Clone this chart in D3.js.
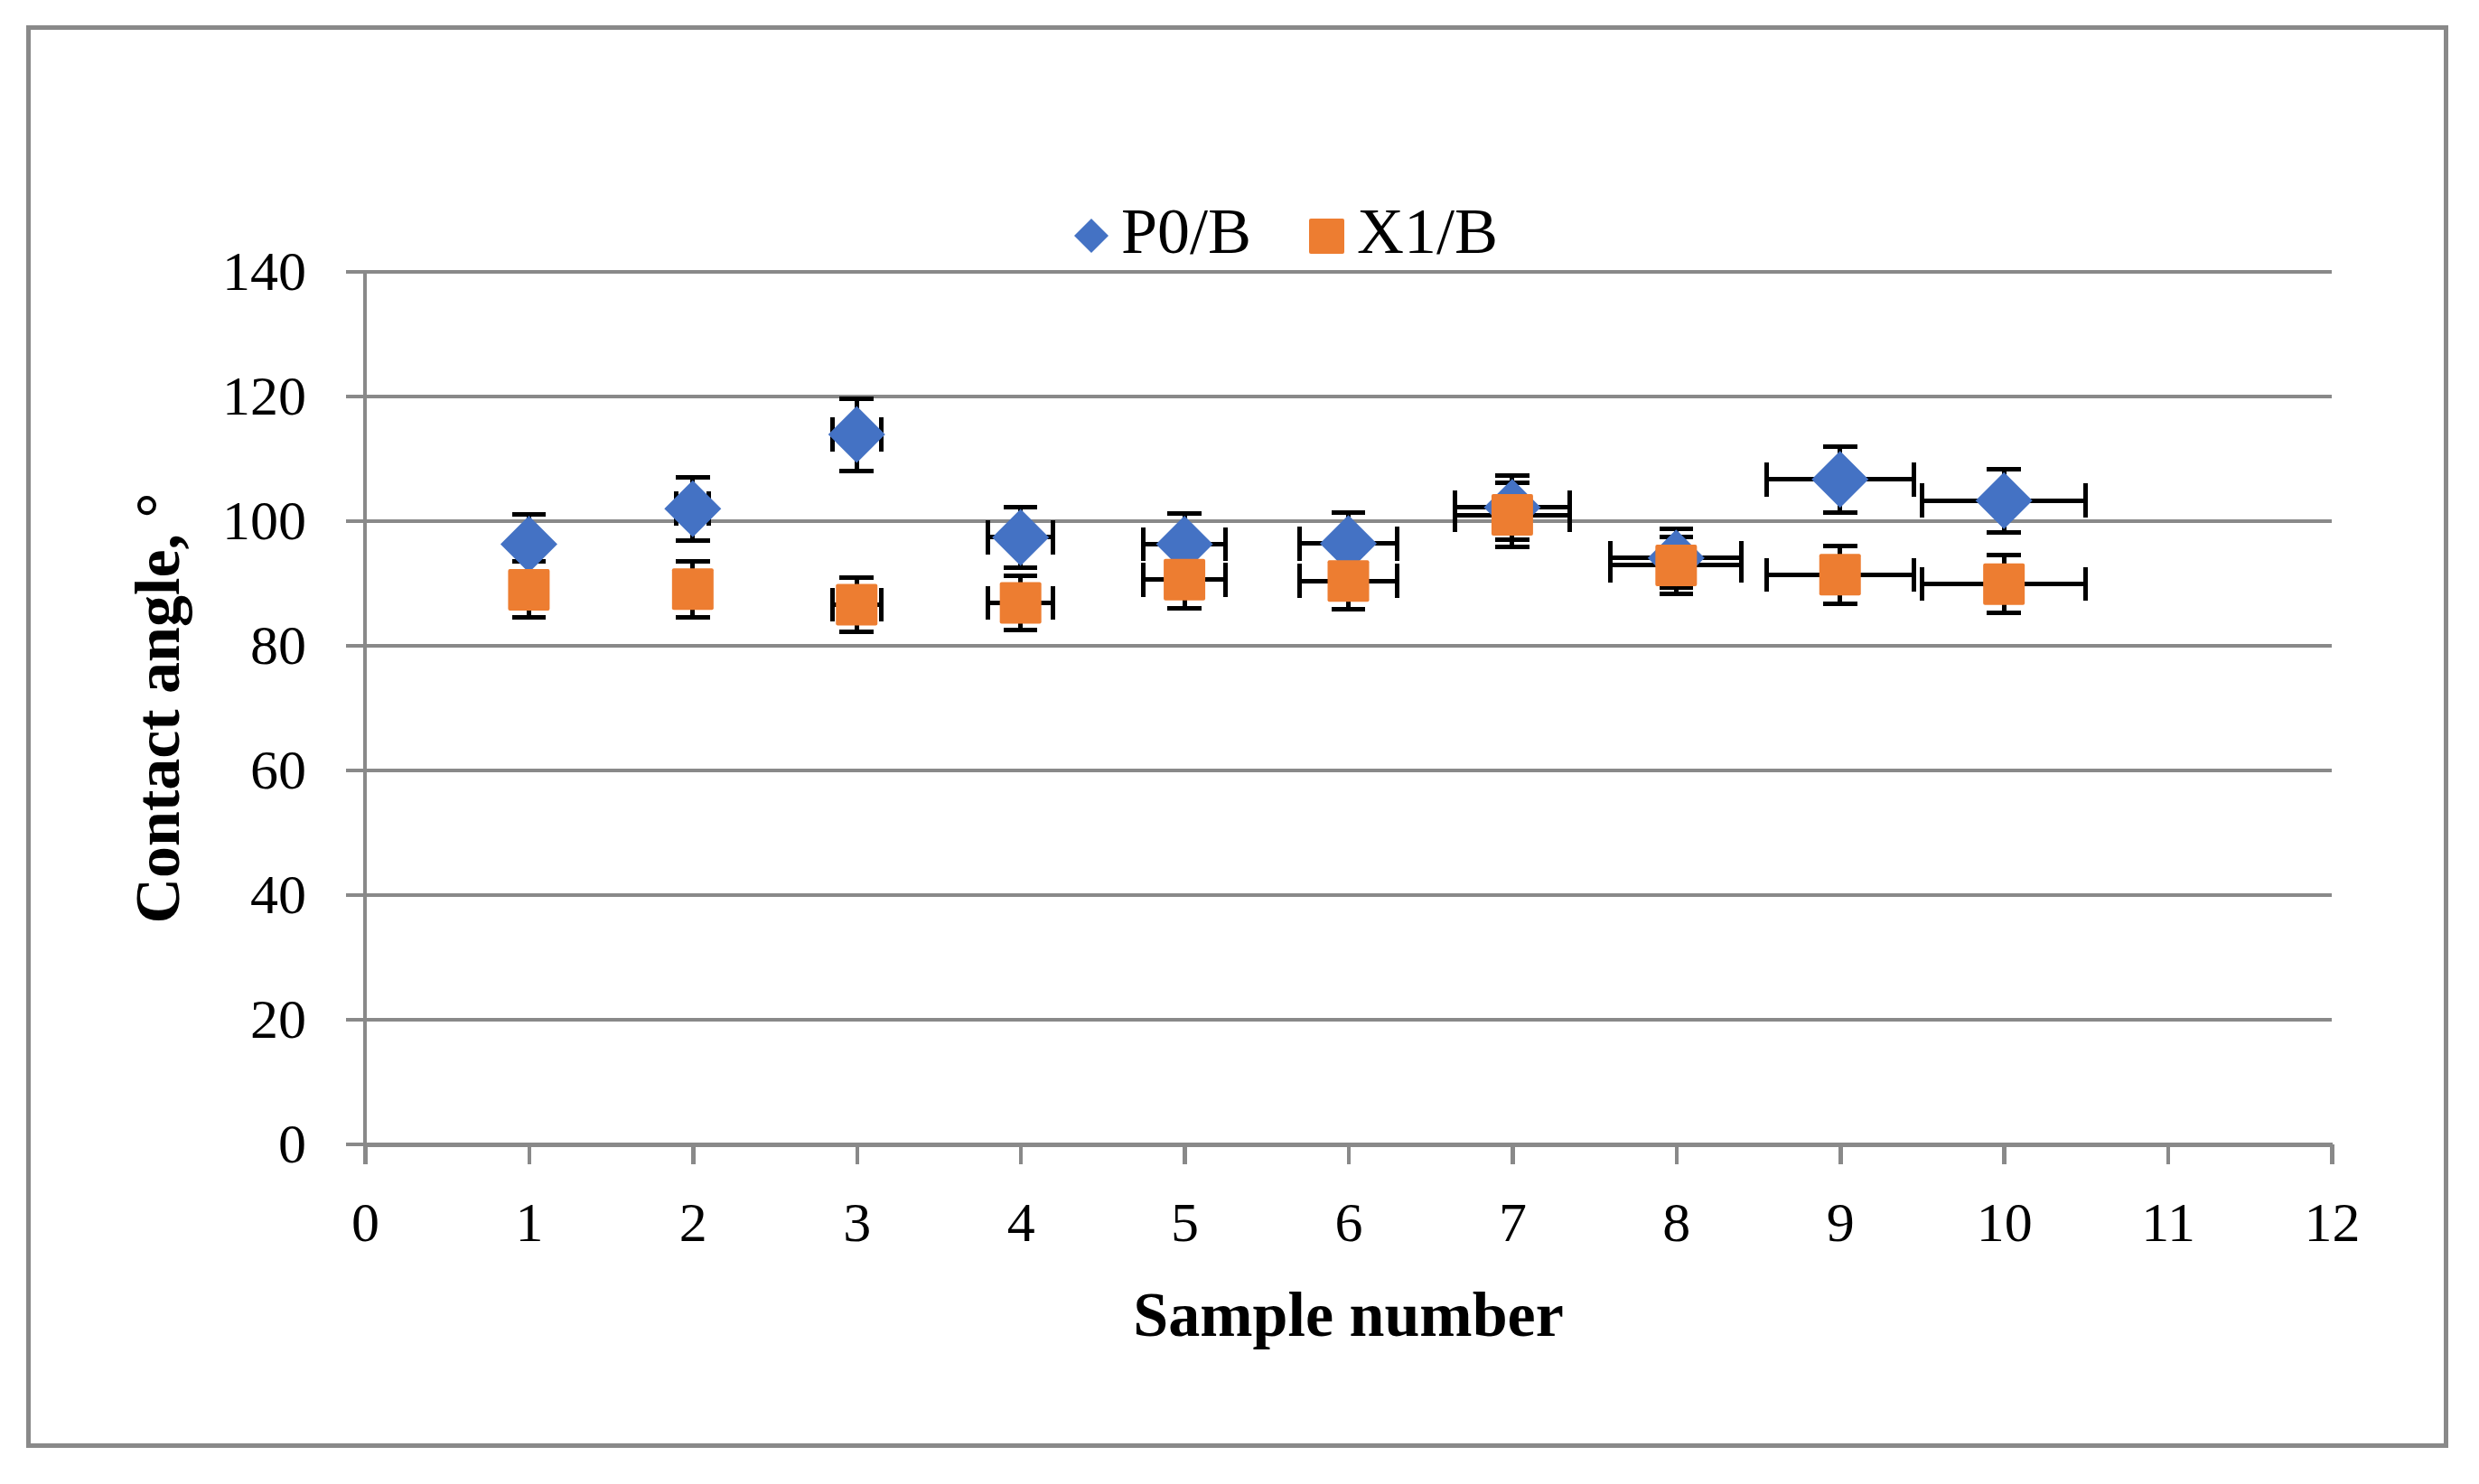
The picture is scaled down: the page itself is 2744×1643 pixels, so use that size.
<!DOCTYPE html>
<html>
<head>
<meta charset="utf-8">
<script src="https://cdn.jsdelivr.net/npm/d3@7"></script>
<style>
  html, body { margin: 0; padding: 0; background: #fff; }
  svg { display: block; }
</style>
</head>
<body>
<div id="chart"></div>
<script>
// ---- data ----
const samples = [1, 2, 3, 4, 5, 6, 7, 8, 9, 10];
const p0Values = [96.3, 102.0, 113.9, 97.4, 96.3, 96.4, 102.2, 94.1, 106.7, 103.3];
const p0Errors = [4.8, 5.1, 5.8, 4.9, 4.9, 5.0, 5.1, 4.7, 5.3, 5.1];
const x1Values = [89.0, 89.1, 86.6, 86.9, 90.6, 90.4, 101.0, 92.9, 91.4, 89.9];
const x1Errors = [4.5, 4.5, 4.4, 4.4, 4.6, 4.5, 5.1, 4.5, 4.6, 4.6];
const xErrors = [0.05, 0.1, 0.15, 0.2, 0.25, 0.3, 0.35, 0.4, 0.45, 0.5];
const xTicks = [0, 1, 2, 3, 4, 5, 6, 7, 8, 9, 10, 11, 12];
const yTicks = [0, 20, 40, 60, 80, 100, 120, 140];
const seriesNames = ["P0/B", "X1/B"];

// ---- layout ----
const W = 2744, H = 1643;
const gridColor = "#898989";
const blue = "#4472C4", orange = "#ED7D31";
const serif = "'Palatino Linotype', 'Book Antiqua', Palatino, 'Liberation Serif', serif";

const svg = d3.select("#chart").append("svg").attr("width", W).attr("height", H);

// outer frame
svg.append("rect").attr("x", 31.5).attr("y", 30.5).attr("width", 2676).attr("height", 1570)
  .attr("fill", "none").attr("stroke", gridColor).attr("stroke-width", 5)
  .attr("shape-rendering", "crispEdges");

const x = d3.scaleLinear().domain([0, 12]).range([404, 2581]);
const y = d3.scaleLinear().domain([0, 140]).range([1267, 301]);

// gridlines
svg.append("g").attr("shape-rendering", "crispEdges").selectAll("line").data(yTicks).join("line")
  .attr("x1", x(0) - 21).attr("x2", x(12))
  .attr("y1", d => y(d)).attr("y2", d => y(d))
  .attr("stroke", gridColor).attr("stroke-width", 4.5);

// y axis vertical line
svg.append("line").attr("x1", x(0)).attr("x2", x(0)).attr("y1", y(140)).attr("y2", y(0) + 22)
  .attr("stroke", gridColor).attr("stroke-width", 4.5).attr("shape-rendering", "crispEdges");

// x axis
const xAxis = svg.append("g").attr("transform", `translate(0,${y(0)})`)
  .call(d3.axisBottom(x).tickValues(xTicks).tickFormat(d3.format("d")).tickSizeInner(22).tickSizeOuter(0).tickPadding(41));
xAxis.select(".domain").attr("stroke", gridColor).attr("stroke-width", 4.5).attr("shape-rendering", "crispEdges");
xAxis.selectAll(".tick line").attr("stroke", gridColor).attr("stroke-width", 4.5).attr("shape-rendering", "crispEdges");
xAxis.selectAll(".tick text").attr("font-family", serif).attr("font-size", 62).attr("fill", "#000");

// y axis labels
const yAxis = svg.append("g").attr("transform", `translate(${x(0)},0)`)
  .call(d3.axisLeft(y).tickValues(yTicks).tickFormat(d3.format("d")).tickSizeInner(21).tickSizeOuter(0).tickPadding(44));
yAxis.select(".domain").remove();
yAxis.selectAll(".tick line").remove();
yAxis.selectAll(".tick text").attr("font-family", serif).attr("font-size", 62).attr("fill", "#000");

// axis titles
svg.append("text").attr("x", (x(0) + x(12)) / 2).attr("y", 1479)
  .attr("text-anchor", "middle").attr("font-family", serif).attr("font-weight", "bold")
  .attr("font-size", 70).attr("fill", "#000").text("Sample number");
svg.append("text").attr("transform", `translate(198,${(y(0) + y(140)) / 2}) rotate(-90)`)
  .attr("text-anchor", "middle").attr("font-family", serif).attr("font-weight", "bold")
  .attr("font-size", 70).attr("fill", "#000").text("Contact angle, °");

// ---- error bars ----
const rows = samples.map((s, i) => ({
  s, p0: p0Values[i], p0e: p0Errors[i], x1: x1Values[i], x1e: x1Errors[i], xe: xErrors[i]
}));
const cap = 18.8;
const eb = svg.append("g").attr("stroke", "#000").attr("stroke-width", 5).attr("fill", "none")
  .attr("shape-rendering", "crispEdges");
function drawErr(val, err) {
  rows.forEach(r => {
    const cx = x(r.s), cy = y(r[val]);
    const top = y(r[val] + r[err]), bot = y(r[val] - r[err]);
    const lft = x(r.s - r.xe), rgt = x(r.s + r.xe);
    eb.append("line").attr("x1", cx).attr("x2", cx).attr("y1", top).attr("y2", bot);
    eb.append("line").attr("x1", cx - cap).attr("x2", cx + cap).attr("y1", top).attr("y2", top);
    eb.append("line").attr("x1", cx - cap).attr("x2", cx + cap).attr("y1", bot).attr("y2", bot);
    eb.append("line").attr("x1", lft).attr("x2", rgt).attr("y1", cy).attr("y2", cy);
    eb.append("line").attr("x1", lft).attr("x2", lft).attr("y1", cy - cap).attr("y2", cy + cap);
    eb.append("line").attr("x1", rgt).attr("x2", rgt).attr("y1", cy - cap).attr("y2", cy + cap);
  });
}
drawErr("p0", "p0e");
drawErr("x1", "x1e");

// ---- markers ----
const dHalf = 31.5;
const diamond = h => `M0,${-h}L${h},0L0,${h}L${-h},0Z`;
svg.append("g").selectAll("path").data(rows).join("path")
  .attr("transform", d => `translate(${x(d.s)},${y(d.p0)})`)
  .attr("d", diamond(dHalf)).attr("fill", blue);
const sq = 46;
svg.append("g").selectAll("rect").data(rows).join("rect")
  .attr("x", d => x(d.s) - sq / 2).attr("y", d => y(d.x1) - sq / 2)
  .attr("width", sq).attr("height", sq).attr("rx", 2).attr("fill", orange);

// ---- legend ----
const lg = svg.append("g");
lg.append("path").attr("transform", "translate(1208,261)").attr("d", diamond(19)).attr("fill", blue);
lg.append("text").attr("x", 1241).attr("y", 280).attr("font-family", serif).attr("font-size", 72)
  .attr("fill", "#000").text(seriesNames[0]);
lg.append("rect").attr("x", 1449).attr("y", 242).attr("width", 39).attr("height", 39).attr("rx", 2).attr("fill", orange);
lg.append("text").attr("x", 1502).attr("y", 280).attr("font-family", serif).attr("font-size", 72)
  .attr("fill", "#000").text(seriesNames[1]);
</script>
</body>
</html>
